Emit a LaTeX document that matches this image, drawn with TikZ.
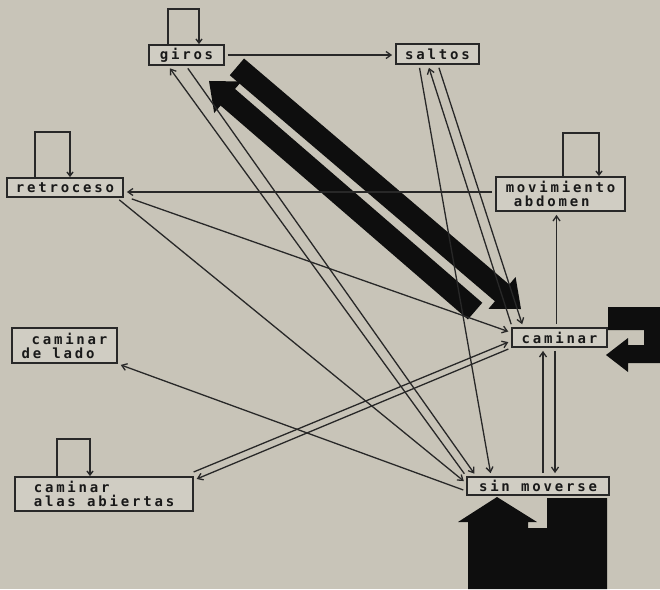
\documentclass[tikz,border=0pt]{standalone}
\usepackage{fontspec}
\newfontfamily\dmfont[LetterSpace=20]{DejaVu Sans Mono}
\usetikzlibrary{arrows.meta}
\definecolor{bgc}{RGB}{200,196,184}
\definecolor{boxc}{RGB}{208,205,195}
\definecolor{linec}{RGB}{40,40,40}
\definecolor{bigc}{RGB}{14,14,14}
\definecolor{txtc}{RGB}{25,25,25}
\begin{document}
\begin{tikzpicture}[x=1pt,y=-1pt,
  box/.style={draw=linec, line width=1.8pt, fill=boxc, inner sep=0pt,
    font=\dmfont\bfseries\fontsize{14}{14}\selectfont, text=txtc, align=left},
  conn/.style={draw=linec, line width=1.3pt, -{Straight Barb[length=5pt,width=7pt]},
    shorten >=3pt, shorten <=3pt},
  loopc/.style={draw=linec, line width=1.4pt, -{Straight Barb[length=4pt,width=6pt]}},
  big/.style={draw=bigc, line width=22pt, -{Triangle[length=25pt,width=40pt]}}]
\fill[bgc] (0,0) rectangle (660,589);
\useasboundingbox (0,0) rectangle (660,589);

% nodes
\node[box, minimum width=75pt, minimum height=20pt] (giros) at (186.5,55) {giros};
\node[box, minimum width=83pt, minimum height=20pt] (saltos) at (437.5,54) {saltos};
\node[box, minimum width=116pt, minimum height=19pt] (retro) at (65,187.5) {retroceso};
\node[box, minimum width=129pt, minimum height=34pt] (movabd) at (560.5,194) {movimiento\\\hspace*{8pt}abdomen};
\node[box, minimum width=95pt, minimum height=19pt] (caminar) at (559.5,337.5) {caminar};
\node[box, minimum width=105pt, minimum height=35pt] (lado) at (64.5,345.5) {\hspace*{10pt}caminar\\de lado};
\node[box, minimum width=178pt, minimum height=34pt] (alas) at (104,494) {caminar\\alas abiertas};
\node[box, minimum width=142pt, minimum height=18pt] (sin) at (538,486) {sin moverse};

% big black arrows
\draw[big] ([xshift=12pt,yshift=-1pt]giros.south east) -- ([xshift=10pt,yshift=18pt]caminar.north west);
\draw[big] ([xshift=-36pt,yshift=16pt]caminar.north west) -- ([xshift=-16pt,yshift=-15pt]giros.south east);
% big self-loop of caminar
\fill[bigc] (608,307) -- (660,307) -- (660,363) -- (628,363) -- (628,372) -- (606,355)
  -- (628,338) -- (628,345) -- (644,345) -- (644,330) -- (608,330) -- cycle;
% big self-loop of sin moverse
\fill[bigc] (497,497) -- (537,522) -- (528,522) -- (528,528) -- (547,528) -- (547,498)
  -- (607,498) -- (607,589) -- (468,589) -- (468,522) -- (458,522) -- cycle;

% small self-loops
\draw[loopc] ([xshift=-18.5pt]giros.north) -- ++(0,-35) -| ([xshift=12.5pt]giros.north);
\draw[loopc] ([xshift=-30pt]retro.north) -- ++(0,-45) -| ([xshift=5pt]retro.north);
\draw[loopc] ([xshift=2.5pt]movabd.north) -- ++(0,-43) -| ([xshift=38.5pt]movabd.north);
\draw[loopc] ([xshift=-47pt]alas.north) -- ++(0,-37) -| ([xshift=-14pt]alas.north);

% thin connectors
\draw[conn] (giros.east) -- (giros.east -| saltos.west);
\draw[conn] ([yshift=2pt]movabd.west) -- ([yshift=2pt]movabd.west -| retro.east);
\draw[conn] ([xshift=-3pt]caminar.north) -- ([xshift=-3pt]caminar.north |- movabd.south);
\draw[conn] ([xshift=5pt]sin.north) -- ([xshift=5pt]sin.north |- caminar.south);
\draw[conn] ([xshift=17pt]sin.north |- caminar.south) -- ([xshift=17pt]sin.north);
\draw[conn] ([xshift=-18.5pt]saltos.south) -- ([xshift=25pt]sin.north west);
\draw[conn] ([xshift=1pt]caminar.north west) -- ([xshift=-9.5pt]saltos.south);
\draw[conn] ([xshift=0.5pt]saltos.south) -- ([xshift=12pt]caminar.north west);
\draw[conn] ([xshift=38pt]giros.south west) -- ([xshift=10pt]sin.north west);
\draw[conn] (sin.north west) -- ([xshift=20pt]giros.south west);
\draw[conn] ([xshift=-7pt]retro.south east) -- ([yshift=3pt]sin.west);
\draw[conn] ([xshift=5pt]retro.south east) -- ([yshift=5pt]caminar.west);
\draw[conn] ([xshift=-3pt,yshift=3pt]alas.north east) -- ([yshift=-3.5pt]caminar.west);
\draw[conn] (caminar.south west) -- ([yshift=-4pt]alas.north east);
\draw[conn] ([yshift=-5pt]sin.west) -- (lado.south east);
\end{tikzpicture}
\end{document}
